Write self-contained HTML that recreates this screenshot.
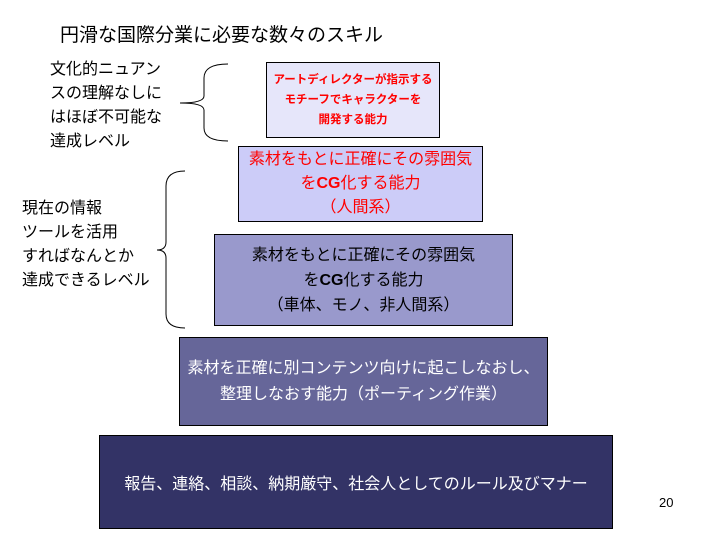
<!DOCTYPE html>
<html><head><meta charset="utf-8"><style>
body{margin:0;width:720px;height:540px;background:#fff;position:relative;overflow:hidden;font-family:"Liberation Sans","Noto Sans CJK JP",sans-serif}
.t{position:absolute;white-space:nowrap}
.b{position:absolute;border:1px solid #000;box-sizing:border-box;display:flex;align-items:center;justify-content:center;text-align:center;white-space:nowrap}
</style></head><body>
<div class="t" style="left:60px;top:20px;font-size:19px;">円滑な国際分業に必要な数々のスキル</div>
<div class="t" style="left:50px;top:58px;font-size:16px;line-height:24px;">文化的ニュアン<br>スの理解なしに<br>はほぼ不可能な<br>達成レベル</div>
<div class="t" style="left:22px;top:197px;font-size:16px;line-height:24px;">現在の情報<br>ツールを活用<br>すればなんとか<br>達成できるレベル</div>
<svg width="720" height="540" style="position:absolute;left:0;top:0">
<path d="M228 64 Q204 64 204 78 L204 96 Q204 103 180 103 Q204 103 204 110 L204 128 Q204 141 228 141" fill="none" stroke="#000" stroke-width="1"/>
<path d="M185 171 Q166 171 166 186 L166 242 Q166 250 157 250 Q166 250 166 258 L166 314 Q166 328 185 328" fill="none" stroke="#000" stroke-width="1"/>
</svg>
<div class="b" style="left:266px;top:62px;width:174px;height:76px;background:#e6e6fa;color:#f00;font-weight:bold;font-size:11.5px;line-height:20px;"><div>アートディレクターが指示する<br>モチーフでキャラクターを<br>開発する能力</div></div>
<div class="b" style="left:238px;top:146px;width:245px;height:76px;background:#ccccf8;color:#f00;font-size:16px;line-height:24px;"><div>素材をもとに正確にその雰囲気<br>を<b>CG</b>化する能力<br>（人間系）</div></div>
<div class="b" style="left:214px;top:234px;width:299px;height:92px;background:#9999cc;color:#000;font-size:16px;line-height:25px;"><div>素材をもとに正確にその雰囲気<br>を<b>CG</b>化する能力<br>（車体、モノ、非人間系）</div></div>
<div class="b" style="left:179px;top:337px;width:369px;height:89px;background:#666699;color:#fff;font-size:16px;line-height:26px;"><div>素材を正確に別コンテンツ向けに起こしなおし、<br>整理しなおす能力（ポーティング作業）</div></div>
<div class="b" style="left:99px;top:435px;width:514px;height:94px;background:#333366;color:#fff;font-size:16px;"><div>報告、連絡、相談、納期厳守、社会人としてのルール及びマナー</div></div>
<div class="t" style="left:659px;top:495px;font-size:13px;">20</div>
</body></html>
